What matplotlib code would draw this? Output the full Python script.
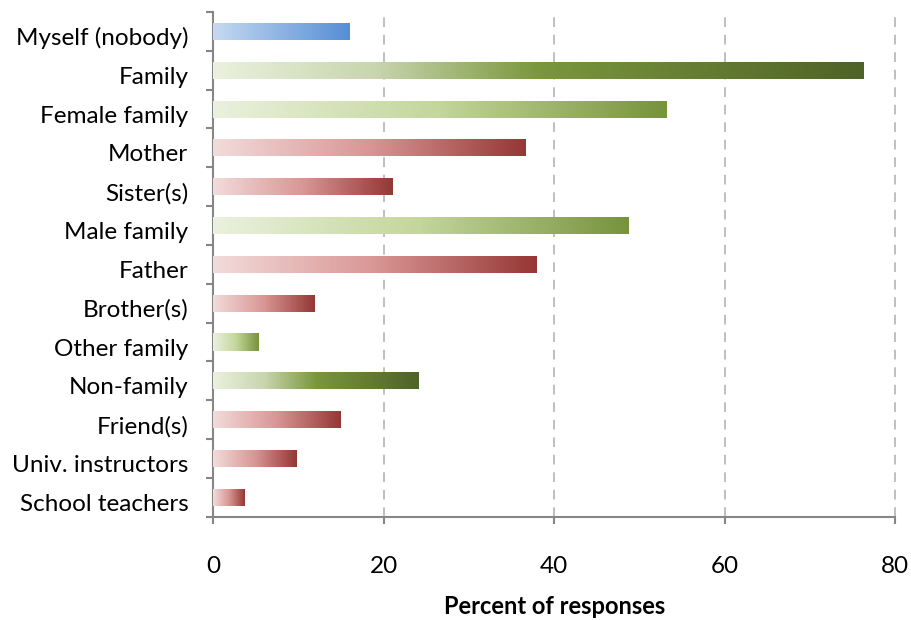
import matplotlib
matplotlib.use('Agg')
import matplotlib.pyplot as plt
import matplotlib.transforms as mtransforms
import numpy as np
from matplotlib.colors import LinearSegmentedColormap
from matplotlib.ticker import FixedLocator, MultipleLocator

plt.rcParams['font.family'] = ['Lato', 'DejaVu Sans']

# data (top to bottom as shown)
categories = ['Myself (nobody)', 'Family', 'Female family', 'Mother', 'Sister(s)',
              'Male family', 'Father', 'Brother(s)', 'Other family', 'Non-family',
              'Friend(s)', 'Univ. instructors', 'School teachers']
values = [16.0, 76.3, 53.2, 36.7, 21.1, 48.8, 38.0, 11.9, 5.3, 24.1, 15.0, 9.8, 3.7]
groups = ['self', 'group', 'sub', 'person', 'person', 'sub', 'person', 'person',
          'sub', 'group', 'person', 'person', 'person']

# gradient colour maps
cmaps = {
    'self': LinearSegmentedColormap.from_list('b', ['#C6D9F1', '#558ED5']),
    'group': LinearSegmentedColormap.from_list('g1', [(0, '#EBF1DE'), (0.25, '#C8D5AE'),
                                                      (0.5, '#7A973E'), (1, '#4F6228')]),
    'sub': LinearSegmentedColormap.from_list('g2', [(0, '#EBF1DE'), (0.5, '#C3D69B'),
                                                    (1, '#77933C')]),
    'person': LinearSegmentedColormap.from_list('r', [(0, '#F2DCDB'), (0.5, '#D99694'),
                                                      (1, '#953735')]),
}

fig = plt.figure(figsize=(9.12, 6.2), dpi=100)
ax = fig.add_axes([0.2339, 0.1666, 0.9814 - 0.2339, 0.9806 - 0.1666])

n = len(categories)
ypos = np.arange(n)
bar_h = 0.44
bars = ax.barh(ypos, values, height=bar_h, color='none', edgecolor='none', zorder=3)

grad = np.linspace(0, 1, 256).reshape(1, -1)
for b, g in zip(bars, groups):
    x0, y0 = b.get_x(), b.get_y()
    w, h = b.get_width(), b.get_height()
    im = ax.imshow(grad, cmap=cmaps[g], aspect='auto', extent=[x0, x0 + w, y0 + h, y0],
                   zorder=3, interpolation='bilinear')
    im.set_clip_path(b)

ax.set_xlim(0, 80)
ax.set_ylim(n - 0.5, -0.5)
ax.xaxis.set_major_locator(MultipleLocator(20))

ax.set_yticks(ypos)
ax.set_yticklabels(categories)
ax.yaxis.set_minor_locator(FixedLocator(np.arange(-0.5, n, 1)))
ax.tick_params(axis='y', which='major', length=0, pad=18, labelsize=17.5)
ax.tick_params(axis='y', which='minor', length=5, width=1.5, color='#868686', direction='out')
ax.tick_params(axis='x', which='major', length=5, width=1.5, color='#868686', pad=23, labelsize=17.5)

# category labels sit a little below the bar centres
shift = mtransforms.ScaledTranslation(0, -0.05, fig.dpi_scale_trans)
for lab in ax.get_yticklabels():
    lab.set_transform(lab.get_transform() + shift)

for s in ['top', 'right']:
    ax.spines[s].set_visible(False)
for s in ['left', 'bottom']:
    ax.spines[s].set_color('#868686')
    ax.spines[s].set_linewidth(1.5)

for xv in [20, 40, 60, 80]:
    ax.axvline(xv, color='#BFBFBF', linestyle=(0, (5, 4)), linewidth=1.4, zorder=1, clip_on=False)

ax.set_xlabel('Percent of responses', fontsize=17, fontweight='bold', labelpad=13)

fig.savefig('out.png', dpi=100)
